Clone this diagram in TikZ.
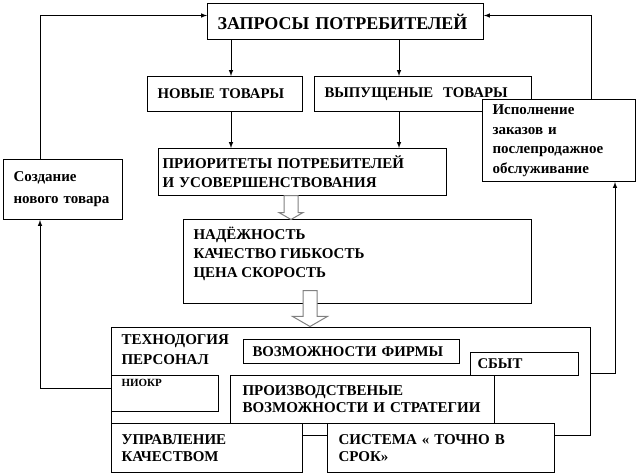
\documentclass[tikz,border=0pt]{standalone}
\usepackage{fontspec}
\setmainfont{Liberation Serif}
\usetikzlibrary{positioning,shapes.arrows}
\tikzset{
  box/.style={draw, fill=white, line width=1pt, anchor=north west, inner xsep=10pt, inner ysep=0pt, align=left, font=\bfseries\fontsize{14.8}{18}\selectfont},
  txt/.style={anchor=north west, inner sep=0pt, align=left, font=\bfseries\fontsize{15}{19}\selectfont},
  bigarrow/.style={draw=gray, fill=white, line width=1pt, single arrow, rotate=-90, anchor=tail, inner xsep=0pt, inner ysep=6.5pt, single arrow tip angle=120}
}
\begin{document}
\begin{tikzpicture}[x=1pt,y=-1pt,>=latex,line width=1pt]
  \useasboundingbox (0,0) rectangle (642,474);
  %riquadri in alto
  \node[box, text width=256pt, minimum height=36pt, font=\bfseries\fontsize{18}{20}\selectfont] (zap) at (207,3) {ЗАПРОСЫ ПОТРЕБИТЕЛЕЙ};
  \node[box, text width=135pt, minimum height=35pt] (new) at (147,76) {НОВЫЕ ТОВАРЫ};
  \node[box, text width=197pt, minimum height=35pt] (rel) at (314,76) {ВЫПУЩЕНЫЕ\ \ ТОВАРЫ};
  \node[box, text width=133pt, minimum height=82pt, font=\bfseries\fontsize{15}{19.5}\selectfont] (ispol) at (482,99) {Исполнение\\заказов и\\послепродажное\\обслуживание};
  \node[box, text width=280pt, inner xsep=4pt, minimum height=47pt, font=\bfseries\fontsize{15}{19}\selectfont] (prior) at (158,148) {ПРИОРИТЕТЫ ПОТРЕБИТЕЛЕЙ\\И УСОВЕРШЕНСТВОВАНИЯ};
  \node[box, text width=99pt, minimum height=60pt, font=\bfseries\fontsize{15}{22}\selectfont] (sozd) at (3,159) {Создание\\нового товара};
  \node[box, minimum width=348pt, minimum height=84pt] (nad) at (183,219) {};
  \node[txt, below right=8pt and 10pt of nad.north west] (nadtext) {НАДЁЖНОСТЬ\\КАЧЕСТВО ГИБКОСТЬ\\ЦЕНА СКОРОСТЬ};
  %riquadro grande
  \node[box, minimum width=479pt, minimum height=108pt] (big) at (111,327) {};
  \node[txt, below right=7pt and 10pt of big.north west, font=\bfseries\fontsize{15}{20}\selectfont] (tech) {ТЕХНОДОГИЯ\\ПЕРСОНАЛ};
  \node[box, text width=198pt, inner xsep=9pt, minimum height=24pt] (firm) at (243,339) {ВОЗМОЖНОСТИ ФИРМЫ};
  \node[box, text width=94pt, inner xsep=7pt, minimum height=23pt] (sbyt) at (470,352) {СБЫТ};
  \node[box, minimum width=107pt, minimum height=36pt] (niokr) at (111,375) {};
  \node[txt, below right=4pt and 10pt of niokr.north west, font=\bfseries\fontsize{11}{13}\selectfont] (niokrtext) {НИОКР};
  \node[box, text width=240pt, inner xsep=12pt, minimum height=48pt, font=\bfseries\fontsize{15}{17}\selectfont] (prodv) at (230,375) {ПРОИЗВОДСТВЕНЫЕ\\ВОЗМОЖНОСТИ И СТРАТЕГИИ};
  \node[box, text width=171pt, minimum height=49pt, font=\bfseries\fontsize{15}{17}\selectfont] (upr) at (111,423) {УПРАВЛЕНИЕ\\КАЧЕСТВОМ};
  \node[box, text width=205pt, inner xsep=11pt, minimum height=49pt, font=\bfseries\fontsize{15}{17}\selectfont] (sys) at (327,423) {СИСТЕМА « ТОЧНО В\\СРОК»};
  %frecce vuote
  \node[bigarrow, minimum height=24pt, single arrow head extend=5pt] (ar1) at (291,195) {};
  \node[bigarrow, minimum height=36pt, single arrow head extend=10.5pt] (ar2) at (310,290) {};
  %frecce
  \coordinate (c1) at (231,0);
  \coordinate (c2) at (399,0);
  \coordinate (lx) at (40,0);
  \coordinate (rx) at (591,0);
  \coordinate (rx2) at (615,0);
  \draw[->] (c1 |- zap.south) -- (c1 |- new.north);
  \draw[->] (c1 |- new.south) -- (c1 |- prior.north);
  \draw[->] (c2 |- zap.south) -- (c2 |- rel.north);
  \draw[->] (c2 |- rel.south) -- (c2 |- prior.north);
  \draw[->] ([yshift=5pt]niokr.west) -| (lx |- sozd.south);
  \draw[->] (lx |- sozd.north) |- ([yshift=6pt]zap.west);
  \draw[->] (rx |- ispol.north) |- ([yshift=6pt]zap.east);
  \draw[->] ([yshift=8pt]big.east) -| (rx2 |- ispol.south);
\end{tikzpicture}
\end{document}
